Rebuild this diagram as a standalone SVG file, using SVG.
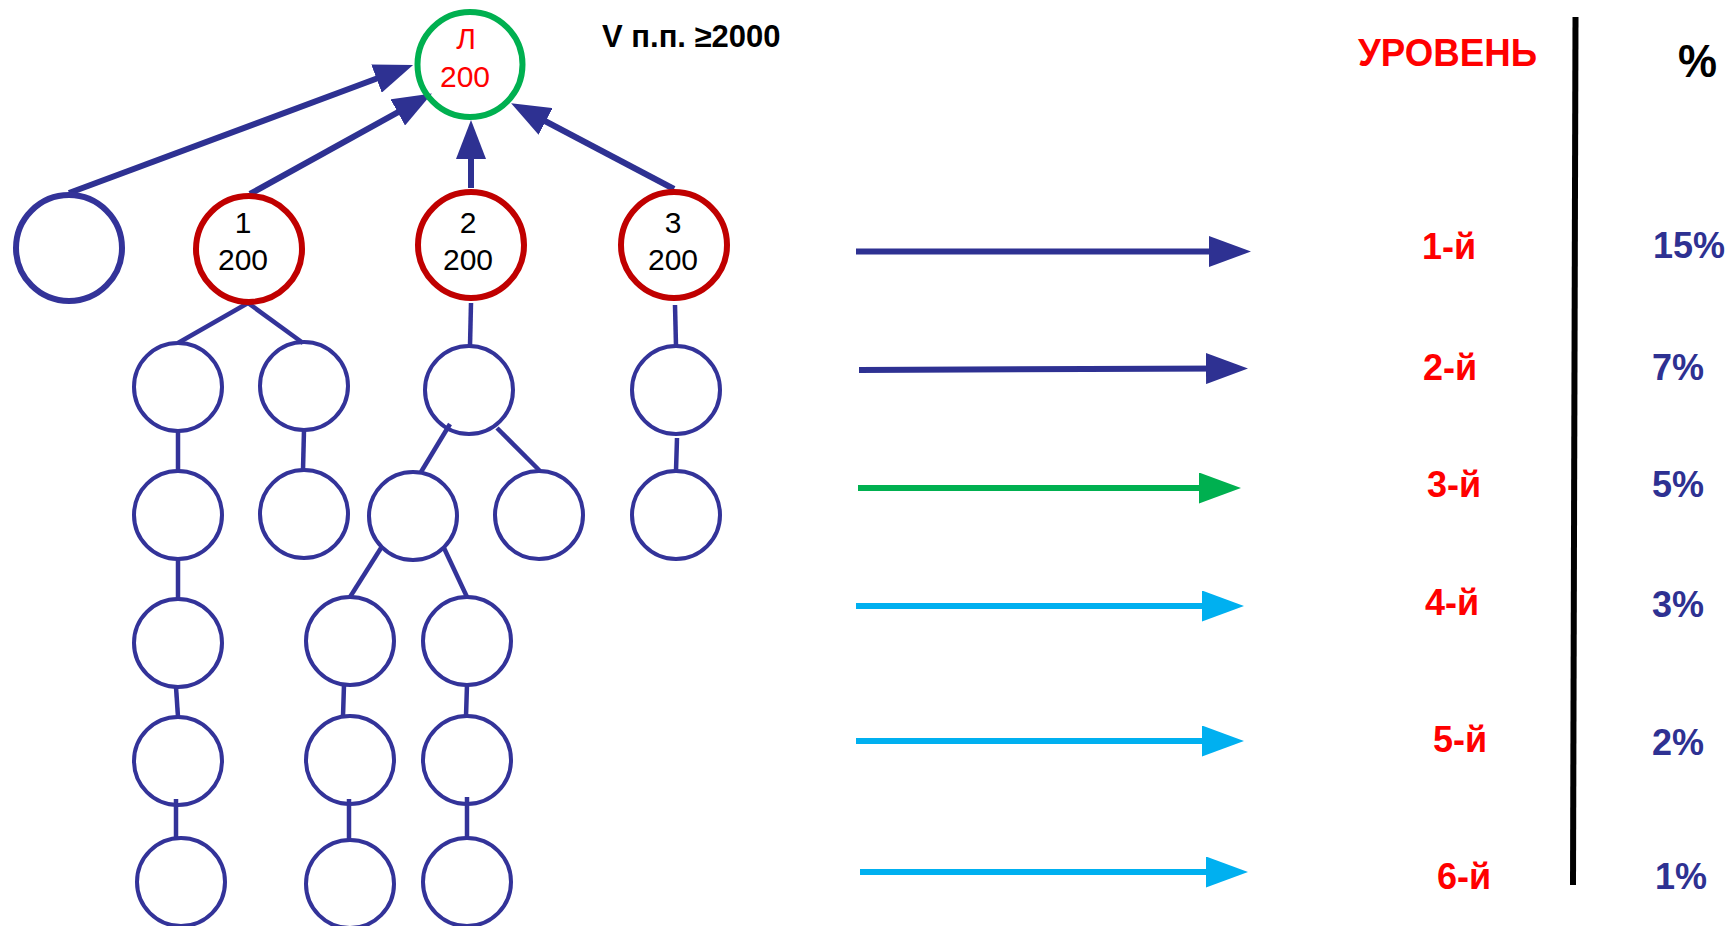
<svg xmlns="http://www.w3.org/2000/svg" width="1729" height="926" viewBox="0 0 1729 926">
<defs>
<marker id="hNavy" markerUnits="userSpaceOnUse" markerWidth="42" markerHeight="31" refX="20" refY="15.5" orient="auto"><path d="M0,0 L42,15.5 L0,31 Z" fill="#2E3192"/></marker>
<marker id="hGreen" markerUnits="userSpaceOnUse" markerWidth="42" markerHeight="31" refX="20" refY="15.5" orient="auto"><path d="M0,0 L42,15.5 L0,31 Z" fill="#00B050"/></marker>
<marker id="hCyan" markerUnits="userSpaceOnUse" markerWidth="42" markerHeight="31" refX="20" refY="15.5" orient="auto"><path d="M0,0 L42,15.5 L0,31 Z" fill="#00B0F0"/></marker>
<marker id="hUp" markerUnits="userSpaceOnUse" markerWidth="39" markerHeight="30" refX="19" refY="15" orient="auto"><path d="M0,0 L39,15 L0,30 Z" fill="#2E3192"/></marker>
</defs>
<style>
.t{font-family:"Liberation Sans",Arial,sans-serif}
.nd{fill:none;stroke:#333399;stroke-width:4}
.big{fill:none;stroke-width:6}
.red{fill:#FF0000}
.navy{fill:#2E3192}
.c{stroke:#333399;stroke-width:4.5;fill:none}
.a{stroke-width:6;fill:none}
</style>
<rect width="1729" height="926" fill="#FFFFFF"/>

<g id="connectors">
<line class="a" x1="69" y1="193" x2="394.3" y2="72.0" stroke="#2E3192" marker-end="url(#hUp)"/>
<line class="a" x1="250" y1="194" x2="414.4" y2="103.2" stroke="#2E3192" marker-end="url(#hUp)"/>
<line class="a" x1="471" y1="188" x2="471" y2="140" stroke="#2E3192" marker-end="url(#hUp)"/>
<line class="a" x1="674" y1="189" x2="528.8" y2="112.5" stroke="#2E3192" marker-end="url(#hUp)"/>

<line class="c" x1="248" y1="303" x2="178" y2="343"/>
<line class="c" x1="248" y1="303" x2="303" y2="343"/>
<line class="c" x1="471" y1="303" x2="470" y2="346"/>
<line class="c" x1="675" y1="305" x2="676" y2="346"/>
<line class="c" x1="178" y1="431" x2="178" y2="471"/>
<line class="c" x1="304" y1="430" x2="303" y2="470"/>
<line class="c" x1="450" y1="424" x2="421" y2="472"/>
<line class="c" x1="497" y1="428" x2="540" y2="471"/>
<line class="c" x1="677" y1="438" x2="676" y2="471"/>
<line class="c" x1="178" y1="559" x2="178" y2="599"/>
<line class="c" x1="381" y1="548" x2="350" y2="597"/>
<line class="c" x1="444" y1="548" x2="467" y2="597"/>
<line class="c" x1="176" y1="687" x2="178" y2="717"/>
<line class="c" x1="344" y1="685" x2="343" y2="716"/>
<line class="c" x1="467" y1="685" x2="466" y2="716"/>
<line class="c" x1="176" y1="799" x2="176" y2="839"/>
<line class="c" x1="349" y1="799" x2="349" y2="840"/>
<line class="c" x1="467" y1="797" x2="467" y2="838"/>

<line class="a" x1="856" y1="251.5" x2="1229" y2="251.5" stroke="#2E3192" marker-end="url(#hNavy)"/>
<line class="a" x1="859" y1="370" x2="1226" y2="368.5" stroke="#2E3192" marker-end="url(#hNavy)"/>
<line class="a" x1="858" y1="488" x2="1219" y2="488" stroke="#00B050" marker-end="url(#hGreen)"/>
<line class="a" x1="856" y1="606" x2="1222" y2="606" stroke="#00B0F0" marker-end="url(#hCyan)"/>
<line class="a" x1="856" y1="741" x2="1222" y2="741" stroke="#00B0F0" marker-end="url(#hCyan)"/>
<line class="a" x1="860" y1="872" x2="1226" y2="872" stroke="#00B0F0" marker-end="url(#hCyan)"/>

<line x1="1575.5" y1="17" x2="1573" y2="885" stroke="#000000" stroke-width="6"/>
</g>

<g id="node-L">
<circle cx="470" cy="64.5" r="52.5" class="big" stroke="#00B050"/>
<text class="t red" x="466" y="49" font-size="30" text-anchor="middle">Л</text>
<text class="t red" x="465" y="87" font-size="30" text-anchor="middle">200</text>
</g>
<g id="node-empty"><circle cx="69" cy="248" r="53" class="big" stroke="#333399"/></g>
<g id="node-1">
<circle cx="249" cy="249" r="53" class="big" stroke="#C00000"/>
<text class="t" x="243" y="233" font-size="30" text-anchor="middle" fill="#000">1</text>
<text class="t" x="243" y="270" font-size="30" text-anchor="middle" fill="#000">200</text>
</g>
<g id="node-2">
<circle cx="471" cy="245" r="53" class="big" stroke="#C00000"/>
<text class="t" x="468" y="233" font-size="30" text-anchor="middle" fill="#000">2</text>
<text class="t" x="468" y="270" font-size="30" text-anchor="middle" fill="#000">200</text>
</g>
<g id="node-3">
<circle cx="674" cy="245" r="53" class="big" stroke="#C00000"/>
<text class="t" x="673" y="233" font-size="30" text-anchor="middle" fill="#000">3</text>
<text class="t" x="673" y="270" font-size="30" text-anchor="middle" fill="#000">200</text>
</g>

<g id="n-A"><circle cx="178" cy="387" r="44" class="nd"/></g>
<g id="n-B"><circle cx="304" cy="386" r="44" class="nd"/></g>
<g id="n-C"><circle cx="469" cy="390" r="44" class="nd"/></g>
<g id="n-D"><circle cx="676" cy="390" r="44" class="nd"/></g>
<g id="n-A2"><circle cx="178" cy="515" r="44" class="nd"/></g>
<g id="n-B2"><circle cx="304" cy="514" r="44" class="nd"/></g>
<g id="n-C1"><circle cx="413" cy="516" r="44" class="nd"/></g>
<g id="n-C2"><circle cx="539" cy="515" r="44" class="nd"/></g>
<g id="n-D2"><circle cx="676" cy="515" r="44" class="nd"/></g>
<g id="n-A3"><circle cx="178" cy="643" r="44" class="nd"/></g>
<g id="n-C1a"><circle cx="350" cy="641" r="44" class="nd"/></g>
<g id="n-C1b"><circle cx="467" cy="641" r="44" class="nd"/></g>
<g id="n-A4"><circle cx="178" cy="761" r="44" class="nd"/></g>
<g id="n-C1a2"><circle cx="350" cy="760" r="44" class="nd"/></g>
<g id="n-C1b2"><circle cx="467" cy="760" r="44" class="nd"/></g>
<g id="n-A5"><circle cx="181" cy="882" r="44" class="nd"/></g>
<g id="n-C1a3"><circle cx="350" cy="884" r="44" class="nd"/></g>
<g id="n-C1b3"><circle cx="467" cy="882" r="44" class="nd"/></g>

<g id="labels" class="t" font-weight="bold">
<text x="602" y="47" font-size="31" fill="#000">V п.п. ≥2000</text>
<text x="1358" y="66" font-size="38" fill="#FF0000" textLength="179" lengthAdjust="spacingAndGlyphs">УРОВЕНЬ</text>
<text x="1678" y="77" font-size="47" fill="#000" textLength="39" lengthAdjust="spacingAndGlyphs">%</text>
<g font-size="36" fill="#FF0000">
<text x="1422" y="259">1-й</text>
<text x="1423" y="380">2-й</text>
<text x="1427" y="497">3-й</text>
<text x="1425" y="615">4-й</text>
<text x="1433" y="752">5-й</text>
<text x="1437" y="889">6-й</text>
</g>
<g font-size="36" fill="#2E3192">
<text x="1653" y="258">15%</text>
<text x="1652" y="380">7%</text>
<text x="1652" y="497">5%</text>
<text x="1652" y="617">3%</text>
<text x="1652" y="755">2%</text>
<text x="1655" y="889">1%</text>
</g>
</g>
</svg>
